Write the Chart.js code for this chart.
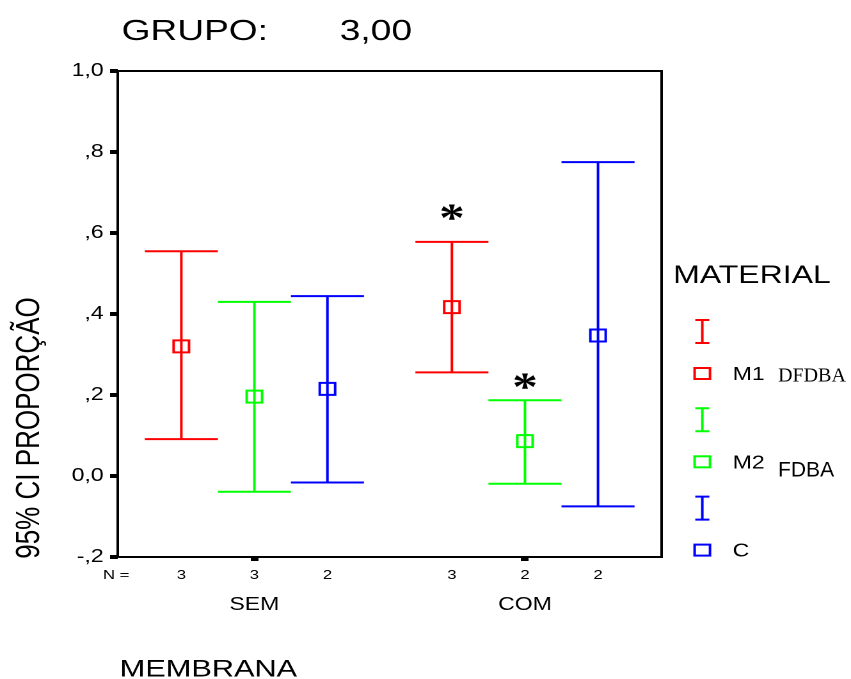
<!DOCTYPE html>
<html>
<head>
<meta charset="utf-8">
<title>GRUPO 3,00</title>
<style>
  html, body { margin: 0; padding: 0; background: #ffffff; }
  /* the original SPSS picture is stretched horizontally, so the canvas is too */
  #chart { display: block; }
</style>
</head>
<body>
<canvas id="chart" width="665" height="679" style="width:851px;height:679px"></canvas>
<script src="https://cdn.jsdelivr.net/npm/chart.js@4/dist/chart.umd.min.js"></script>
<script>
// ---------------------------------------------------------------------------
// Data
// ---------------------------------------------------------------------------
const groups = ['SEM', 'COM'];
const materials = ['M1', 'M2', 'C'];
const materialNotes = ['DFDBA', 'FDBA', ''];
const yTickLabels = ['-,2', '0,0', ',2', ',4', ',6', ',8', '1,0'];

const meanM1 = [0.320, 0.417];
const lowerM1 = [0.091, 0.256];
const upperM1 = [0.555, 0.578];
const countM1 = [3, 3];
const starM1 = [null, 0.649];

const meanM2 = [0.196, 0.086];
const lowerM2 = [-0.039, -0.019];
const upperM2 = [0.430, 0.187];
const countM2 = [3, 2];
const starM2 = [null, 0.232];

const meanC = [0.215, 0.347];
const lowerC = [-0.016, -0.075];
const upperC = [0.444, 0.775];
const countC = [2, 2];
const starC = [null, null];

// ---------------------------------------------------------------------------
// Look
// ---------------------------------------------------------------------------
const STRETCH = 851 / 665;
const DODGE = 0.27; // offset of a material inside its group (x units)
const SANS = "'Liberation Sans', Arial, sans-serif";
const SERIF = "'Liberation Serif', 'Times New Roman', serif";
const colors = ['#ff0000', '#00ff00', '#0000ff'];

const series = [
  { mean: meanM1, lower: lowerM1, upper: upperM1, n: countM1, star: starM1 },
  { mean: meanM2, lower: lowerM2, upper: upperM2, n: countM2, star: starM2 },
  { mean: meanC, lower: lowerC, upper: upperC, n: countC, star: starC },
];

function xPos(groupIndex, materialIndex) {
  return groupIndex + (materialIndex - 1) * DODGE;
}

function drawText(ctx, str, x, y, font, align, baseline) {
  ctx.font = font;
  ctx.textAlign = align || 'left';
  ctx.textBaseline = baseline || 'alphabetic';
  ctx.fillStyle = '#000';
  ctx.fillText(str, x, y);
}

// text that is not stretched in the reference (added afterwards)
function drawPlainText(ctx, str, x, y, font) {
  ctx.save();
  ctx.translate(x, y);
  ctx.scale(1 / STRETCH, 1);
  drawText(ctx, str, 0, 0, font, 'left', 'alphabetic');
  ctx.restore();
}

function drawErrorBar(ctx, x, yLow, yHigh, halfCap, color) {
  ctx.strokeStyle = color;
  ctx.lineWidth = 2;
  ctx.beginPath();
  ctx.moveTo(x, yLow);
  ctx.lineTo(x, yHigh);
  ctx.moveTo(x - halfCap, yLow);
  ctx.lineTo(x + halfCap, yLow);
  ctx.moveTo(x - halfCap, yHigh);
  ctx.lineTo(x + halfCap, yHigh);
  ctx.stroke();
}

// ---------------------------------------------------------------------------
// Plugin: frame, error bars, stars, N row, titles and legend
// ---------------------------------------------------------------------------
const spssPlugin = {
  id: 'spssErrorBars',
  beforeDatasetsDraw(chart) {
    const { ctx, scales } = chart;
    const halfCap = scales.x.getPixelForValue(DODGE / 2) - scales.x.getPixelForValue(0);
    ctx.save();
    series.forEach((s, m) => {
      groups.forEach((g, gi) => {
        const px = scales.x.getPixelForValue(xPos(gi, m));
        drawErrorBar(ctx, px, scales.y.getPixelForValue(s.lower[gi]),
          scales.y.getPixelForValue(s.upper[gi]), halfCap, colors[m]);
      });
    });
    ctx.restore();
  },
  afterDraw(chart) {
    const { ctx, scales, chartArea } = chart;
    ctx.save();

    // frame
    ctx.strokeStyle = '#000';
    ctx.lineWidth = 2;
    ctx.strokeRect(chartArea.left, chartArea.top,
      chartArea.right - chartArea.left, chartArea.bottom - chartArea.top);

    // significance stars
    const starFont = 'bold 40px ' + SERIF;
    ctx.font = starFont;
    const m = ctx.measureText('*');
    const starOffset = (m.actualBoundingBoxAscent - m.actualBoundingBoxDescent) / 2;
    series.forEach((s, mi) => {
      s.star.forEach((v, gi) => {
        if (v === null) return;
        drawText(ctx, '*', scales.x.getPixelForValue(xPos(gi, mi)),
          scales.y.getPixelForValue(v) + starOffset, starFont, 'center');
      });
    });

    // N row
    const nY = 579;
    drawText(ctx, 'N =', 80.5, nY, '13px ' + SANS, 'left');
    series.forEach((s, mi) => {
      s.n.forEach((n, gi) => {
        drawText(ctx, String(n), scales.x.getPixelForValue(xPos(gi, mi)), nY,
          '13px ' + SANS, 'center');
      });
    });

    // titles
    drawText(ctx, 'GRUPO:', 95, 40, '29px ' + SANS);
    drawText(ctx, '3,00', 265.5, 40, '29px ' + SANS);
    drawText(ctx, 'MEMBRANA', 93.5, 676.5, '24px ' + SANS);

    ctx.save();
    ctx.translate(23.5, 428);
    ctx.rotate(-Math.PI / 2);
    drawText(ctx, '95% CI PROPORÇÃO', 0, 0, '26px ' + SANS, 'center', 'middle');
    ctx.restore();

    // legend
    drawText(ctx, 'MATERIAL', 526, 283, '25px ' + SANS);
    const legendX = 548.8;
    const legendTop = 331.5;
    const legendStep = 88.3;
    materials.forEach((name, i) => {
      const cy = legendTop + i * legendStep;
      drawErrorBar(ctx, legendX, cy - 11.5, cy + 11.5, 5.5, colors[i]);
      const sy = cy + 42;
      ctx.strokeStyle = colors[i];
      ctx.lineWidth = 2;
      ctx.strokeRect(legendX - 6, sy - 5.5, 12, 11);
      drawText(ctx, name, 572.5, sy + 6.5, '18px ' + SANS);
    });
    drawPlainText(ctx, materialNotes[0], 608, 381.5, '20px ' + SERIF);
    drawPlainText(ctx, materialNotes[1], 608, 476.5, '21px ' + SANS);

    ctx.restore();
  },
};

// ---------------------------------------------------------------------------
// Chart
// ---------------------------------------------------------------------------
const datasets = series.map((s, m) => ({
  label: materials[m],
  data: groups.map((g, gi) => ({ x: xPos(gi, m), y: s.mean[gi] })),
  pointStyle: 'rect',
  pointRadius: 8.5,
  borderWidth: 2,
  borderColor: colors[m],
  backgroundColor: 'rgba(0,0,0,0)',
  showLine: false,
}));

new Chart(document.getElementById('chart'), {
  type: 'scatter',
  data: { datasets: datasets },
  options: {
    responsive: false,
    devicePixelRatio: 2,
    animation: false,
    events: [],
    layout: { padding: { left: 0, right: 148, top: 71, bottom: 0 } },
    plugins: {
      legend: { display: false },
      tooltip: { enabled: false },
      title: { display: false },
    },
    scales: {
      x: {
        type: 'linear',
        min: -0.505,
        max: 1.505,
        afterBuildTicks: (scale) => {
          scale.ticks = groups.map((g, i) => ({ value: i }));
        },
        afterFit: (scale) => { scale.height = 122; },
        border: { display: false },
        grid: {
          drawOnChartArea: false,
          drawTicks: true,
          tickLength: 4,
          tickWidth: 6,
          tickColor: '#000',
        },
        ticks: {
          color: '#000',
          padding: 33,
          font: { family: SANS, size: 18 },
          callback: (value) => groups[value],
        },
      },
      y: {
        type: 'linear',
        min: -0.2,
        max: 1.0,
        afterFit: (scale) => { scale.width = 92; },
        border: { display: false },
        grid: {
          drawOnChartArea: false,
          drawTicks: true,
          tickLength: 6,
          tickWidth: 4,
          tickColor: '#000',
        },
        ticks: {
          stepSize: 0.2,
          color: '#000',
          padding: 5,
          font: { family: SANS, size: 18 },
          callback: (value, index) => yTickLabels[index],
        },
      },
    },
  },
  plugins: [spssPlugin],
});
</script>
</body>
</html>
